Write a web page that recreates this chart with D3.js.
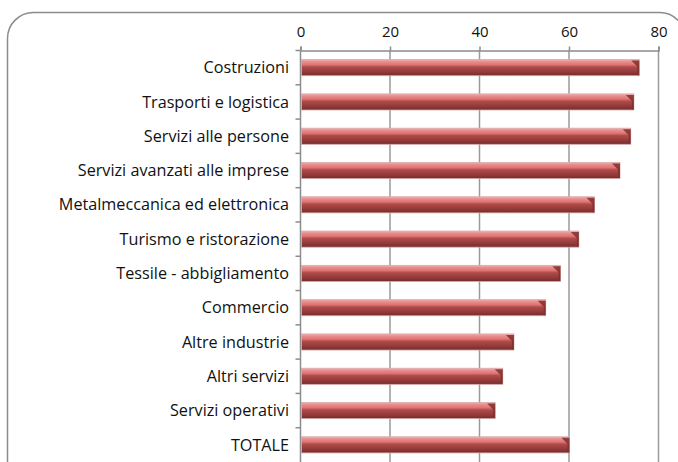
<!DOCTYPE html>
<html lang="it">
<head>
<meta charset="UTF-8">
<title>Settori</title>
<script src="https://d3js.org/d3.v7.min.js"></script>
<style>
  body { margin: 0; background: #fff; }
  svg text { font-family: "Open Sans", Lato, sans-serif; fill: #111; }
</style>
</head>
<body>
<div id="chart"></div>
<script>
// data
var categories = ["Costruzioni", "Trasporti e logistica", "Servizi alle persone",
  "Servizi avanzati alle imprese", "Metalmeccanica ed elettronica", "Turismo e ristorazione",
  "Tessile - abbigliamento", "Commercio", "Altre industrie", "Altri servizi",
  "Servizi operativi", "TOTALE"];
var values = [75.7, 74.5, 73.8, 71.4, 65.7, 62.2, 58.1, 54.8, 47.7, 45.2, 43.5, 60.1];
var ticks = [0, 20, 40, 60, 80];

var W = 678, H = 462;
// plot area (note: "top" is reserved on window)
var pLeft = 300.5, pRight = 658.5, pTop = 50.5, pBottom = 462;

var svg = d3.select("#chart").append("svg")
  .attr("width", W).attr("height", H);

// gradient for the bars
var defs = svg.append("defs");
var grad = defs.append("linearGradient").attr("id", "barGrad")
  .attr("x1", 0).attr("y1", 0).attr("x2", 0).attr("y2", 1);
[["0%", "#f2b4b4"], ["12%", "#ea8e8e"], ["32%", "#df7474"], ["46%", "#b04a4a"],
 ["80%", "#8f3838"], ["100%", "#742b2b"]].forEach(function (s) {
  grad.append("stop").attr("offset", s[0]).attr("stop-color", s[1]);
});

// chart frame
svg.append("rect")
  .attr("x", 7.5).attr("y", 12.5).attr("width", 678).attr("height", 480)
  .attr("rx", 26).attr("ry", 26)
  .attr("fill", "none").attr("stroke", "#8c8c8c").attr("stroke-width", 1.5);

var x = d3.scaleLinear().domain([0, 80]).range([pLeft, pRight]);
var y = d3.scaleBand().domain(categories).range([pTop, pBottom])
  .paddingInner(0.53).paddingOuter(0.265);

// gridlines
svg.append("g").selectAll("line").data(ticks.slice(1)).enter().append("line")
  .attr("x1", function (d) { return x(d); }).attr("x2", function (d) { return x(d); })
  .attr("y1", pTop).attr("y2", H)
  .attr("stroke", "#9a9a9a").attr("stroke-width", 1.5);

// top axis
var xAxis = svg.append("g").attr("transform", "translate(0," + pTop + ")")
  .call(d3.axisTop(x).tickValues(ticks).tickSize(4).tickPadding(10));
xAxis.select(".domain").attr("stroke", "#8c8c8c").attr("stroke-width", 1.5);
xAxis.selectAll(".tick line").attr("stroke", "#8c8c8c").attr("stroke-width", 1.5);
xAxis.selectAll("text").attr("font-size", 15)
  .attr("font-family", "'Open Sans', sans-serif").attr("fill", "#111");

// left axis with ticks at band boundaries
var step = y.step();
var bounds = d3.range(categories.length).map(function (i) { return pTop + i * step; });
var yg = svg.append("g");
yg.append("line").attr("x1", pLeft).attr("x2", pLeft).attr("y1", pTop).attr("y2", H)
  .attr("stroke", "#8c8c8c").attr("stroke-width", 1.5);
yg.selectAll("line.tk").data(bounds).enter().append("line").attr("class", "tk")
  .attr("x1", pLeft - 5).attr("x2", pLeft)
  .attr("y1", function (d) { return d; }).attr("y2", function (d) { return d; })
  .attr("stroke", "#8c8c8c").attr("stroke-width", 1.5);
yg.selectAll("text").data(categories).enter().append("text")
  .attr("x", 289)
  .attr("y", function (d) { return y(d) + y.bandwidth() / 2; })
  .attr("dy", "0.35em")
  .attr("text-anchor", "end")
  .attr("font-size", 16.2)
  .text(function (d) { return d; });

// bars
var bars = svg.append("g").selectAll("g").data(values).enter().append("g");
bars.append("rect")
  .attr("x", x(0) + 1)
  .attr("y", function (d, i) { return y(categories[i]); })
  .attr("width", function (d) { return x(d) - x(0) - 1; })
  .attr("height", y.bandwidth())
  .attr("fill", "url(#barGrad)")
  .attr("stroke", "#d9a9a9").attr("stroke-width", 0.8);
// bevelled end
bars.append("path")
  .attr("d", function (d, i) {
    var ex = x(d), y0 = y(categories[i]), y1 = y0 + y.bandwidth();
    return "M" + (ex - 8) + "," + (y0 + 1) + "L" + ex + "," + (y0 + 1) +
      "L" + ex + "," + (y1 - 0.5) + "L" + (ex - 2) + "," + (y1 - 0.5) +
      "L" + (ex - 2) + "," + (y0 + 7) + "Z";
  })
  .attr("fill", "#7e2f2f").attr("opacity", 0.85);
</script>
</body>
</html>
